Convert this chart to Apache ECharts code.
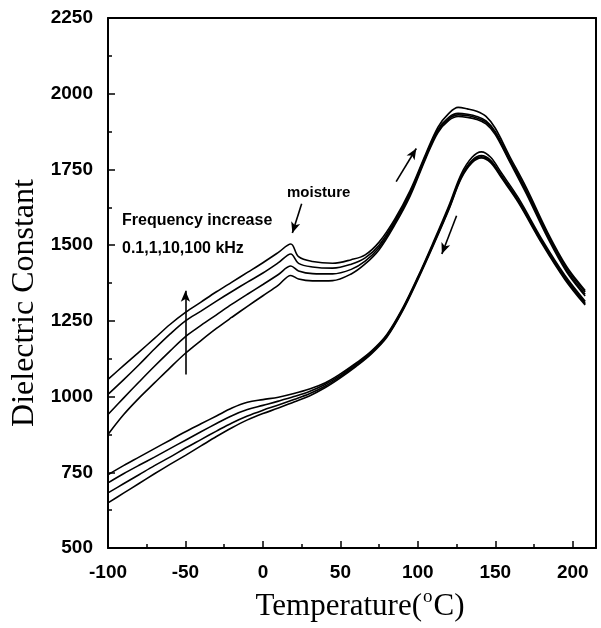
<!DOCTYPE html>
<html>
<head>
<meta charset="utf-8">
<script src="https://cdn.jsdelivr.net/npm/echarts@6/dist/echarts.min.js"></script>
<style>
html,body{margin:0;padding:0;background:#fff;}
#chart{width:601px;height:628px;}
</style>
</head>
<body>
<div id="chart"></div>
<script>
// Heating run (upper branch), four frequencies 0.1, 1, 10, 100 kHz
var heatX = [-100,-90,-80,-70,-60,-50,-40,-30,-20,-10,0,10,18,23,32,45,57,66,75,85,95,105,113,120,126,132,138,144,150,159,170,184,196,208];
var heat01k = [1057,1102,1147,1192,1238,1278,1312,1346,1378,1410,1442,1476,1504,1462,1446,1440,1452,1468,1510,1585,1680,1800,1890,1935,1955,1950,1942,1925,1886,1796,1690,1540,1430,1350];
var heat1k  = [1007,1055,1105,1157,1206,1250,1282,1315,1347,1378,1408,1442,1471,1440,1428,1424,1437,1458,1500,1578,1674,1795,1882,1922,1935,1932,1925,1910,1875,1788,1682,1535,1425,1345];
var heat10k = [941,995,1048,1100,1150,1198,1235,1270,1305,1338,1370,1403,1431,1415,1406,1405,1420,1447,1492,1572,1668,1790,1877,1917,1930,1928,1920,1905,1870,1782,1676,1528,1418,1338];
var heat100k= [875,940,995,1045,1095,1143,1185,1225,1262,1298,1333,1368,1400,1388,1382,1383,1405,1438,1485,1566,1662,1785,1872,1912,1925,1922,1915,1900,1865,1778,1670,1522,1412,1332];

// Cooling run (lower branch), four frequencies
var coolX = [-100,-90,-80,-70,-60,-50,-40,-30,-20,-10,0,10,20,30,40,50,60,70,80,90,100,110,120,128,135,141,147,154,165,180,195,208];
var cool01k = [742,772,800,828,856,884,910,936,962,981,990,998,1010,1025,1045,1075,1110,1150,1205,1290,1395,1510,1630,1735,1790,1808,1790,1738,1655,1520,1400,1315];
var cool1k  = [715,745,773,800,828,856,884,911,937,957,971,985,1000,1017,1040,1070,1106,1147,1202,1287,1392,1505,1624,1728,1780,1796,1780,1730,1648,1514,1394,1310];
var cool10k = [682,712,742,772,800,830,858,886,913,936,955,972,990,1009,1034,1066,1102,1144,1199,1284,1389,1502,1620,1724,1776,1792,1776,1726,1644,1510,1390,1306];
var cool100k= [649,681,713,745,776,806,837,868,897,923,944,962,982,1002,1029,1062,1099,1141,1196,1281,1386,1499,1617,1720,1772,1788,1772,1722,1640,1506,1386,1302];

// Axis ticks
var xTicks = [-100,-50,0,50,100,150,200];
var yTicks = [500,750,1000,1250,1500,1750,2000,2250];

// Annotation arrows [x1,y1,x2,y2] (tail -> head) in data units
var arrows = [
  [-50,1073,-50,1349],
  [25,1637,19,1540],
  [86,1710,99,1819],
  [125,1597,115.5,1471]
];

function pairs(xs, ys){ return xs.map(function(x,i){ return [x, ys[i]]; }); }

var chart = echarts.init(document.getElementById('chart'), null, {renderer:'canvas'});
var lineStyle = {color:'#000', width:1.6};
function mkSeries(xs, ys, name){
  return {type:'line', name:name, data:pairs(xs,ys), showSymbol:false, smooth:0.35,
          lineStyle:lineStyle, itemStyle:{color:'#000'}, silent:true, z:3};
}
var series = [
  mkSeries(heatX, heat01k, 'heat 0.1 kHz'),
  mkSeries(heatX, heat1k, 'heat 1 kHz'),
  mkSeries(heatX, heat10k, 'heat 10 kHz'),
  mkSeries(heatX, heat100k, 'heat 100 kHz'),
  mkSeries(coolX, cool01k, 'cool 0.1 kHz'),
  mkSeries(coolX, cool1k, 'cool 1 kHz'),
  mkSeries(coolX, cool10k, 'cool 10 kHz'),
  mkSeries(coolX, cool100k, 'cool 100 kHz'),
  {type:'line', data:[], silent:true,
   markLine:{silent:true, symbol:['none','arrow'], symbolSize:[7,11], animation:false,
     label:{show:false}, lineStyle:{color:'#000', width:1.6, type:'solid'},
     data: arrows.map(function(a){ return [{coord:[a[0],a[1]]},{coord:[a[2],a[3]]}]; })}}
];

var tickFont = {fontFamily:'Liberation Sans, Arial, sans-serif', fontWeight:'bold', fontSize:19, color:'#000'};
var serif = '"Liberation Serif", "Times New Roman", serif';
var option = {
  animation:false,
  backgroundColor:'#fff',
  grid:{left:108, right:5, top:18, bottom:80, containLabel:false},
  xAxis:[{
    type:'value', min:-100, max:215, interval:50,
    axisLine:{show:true, onZero:false, lineStyle:{color:'#000', width:2}},
    axisTick:{show:true, inside:true, length:7, lineStyle:{color:'#000', width:1.5}},
    minorTick:{show:true, splitNumber:2, length:4, lineStyle:{color:'#000', width:1.5}},
    splitLine:{show:false},
    axisLabel:Object.assign({margin:15, formatter:function(v){ return xTicks.indexOf(v)>=0 ? String(v) : ''; }}, tickFont)
  },{
    type:'value', position:'top', min:-100, max:215,
    axisLine:{show:true, onZero:false, lineStyle:{color:'#000', width:2}},
    axisTick:{show:false}, axisLabel:{show:false}, splitLine:{show:false}
  }],
  yAxis:[{
    type:'value', min:500, max:2250, interval:250,
    axisLine:{show:true, onZero:false, lineStyle:{color:'#000', width:2}},
    axisTick:{show:true, inside:true, length:7, lineStyle:{color:'#000', width:1.5}},
    minorTick:{show:true, splitNumber:2, length:4, lineStyle:{color:'#000', width:1.5}},
    splitLine:{show:false},
    axisLabel:Object.assign({margin:15, formatter:function(v){ return yTicks.indexOf(v)>=0 ? String(v) : ''; }}, tickFont)
  },{
    type:'value', position:'right', min:500, max:2250,
    axisLine:{show:true, onZero:false, lineStyle:{color:'#000', width:2}},
    axisTick:{show:false}, axisLabel:{show:false}, splitLine:{show:false}
  }],
  graphic:[
    {type:'text', left:122, top:213, style:{text:'Frequency increase', fill:'#000',
      font:'bold 16px "Liberation Sans", Arial, sans-serif'}},
    {type:'text', left:122, top:241, style:{text:'0.1,1,10,100 kHz', fill:'#000',
      font:'bold 16px "Liberation Sans", Arial, sans-serif'}},
    {type:'text', left:287, top:185, style:{text:'moisture', fill:'#000',
      font:'bold 15px "Liberation Sans", Arial, sans-serif'}},
    {type:'text', x:25, y:303, rotation:Math.PI/2,
      style:{text:'Dielectric Constant', fill:'#000', font:'32px ' + serif,
        textAlign:'center', textVerticalAlign:'middle'}},
    {type:'text', x:360, y:607,
      style:{text:'{a|Temperature(}{s|o}{a|C)}', textAlign:'center', textVerticalAlign:'middle',
        rich:{a:{fontFamily:serif, fontSize:31, fill:'#000', color:'#000'},
              s:{fontFamily:serif, fontSize:19, fill:'#000', color:'#000', verticalAlign:'top', padding:[0,1,20,1]}}}}
  ],
  series:series
};
chart.setOption(option);
</script>
</body>
</html>
